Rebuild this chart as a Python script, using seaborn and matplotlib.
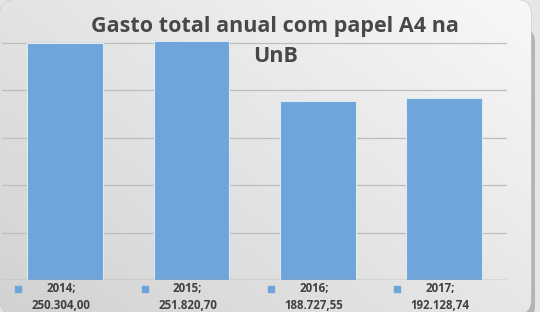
import numpy as np
import matplotlib
matplotlib.use("Agg")
import matplotlib.pyplot as plt
import seaborn as sns
import pandas as pd
from matplotlib.patches import FancyBboxPatch

years = ["2014", "2015", "2016", "2017"]
values = [250304.00, 251820.70, 188727.55, 192128.74]
title = "Gasto total anual com papel A4 na\nUnB"

def br(v):
    s = f"{v:,.2f}"
    return s.replace(",", "X").replace(".", ",").replace("X", ".")

df = pd.DataFrame({"ano": years, "gasto": values})

sns.set_theme(style="white")
plt.rcParams['font.family'] = ['Open Sans', 'DejaVu Sans']

W, H = 540, 312
fig = plt.figure(figsize=(W / 100, H / 100), dpi=100)
fig.patch.set_facecolor("#e6e6e6")

# background with gradient and rounded corners
bg = fig.add_axes([0, 0, 1, 1])
bg.set_xlim(0, W)
bg.set_ylim(0, H)
bg.axis("off")
yy, xx = np.mgrid[0:1:200j, 0:1:300j]
grad = 0.55 * xx + 0.45 * yy
cmap = matplotlib.colors.LinearSegmentedColormap.from_list("g", ["#d2d2d2", "#f8f8f8"])
shadow = FancyBboxPatch((5, -8), W - 10, H - 20, boxstyle="round,pad=0,rounding_size=14",
                        facecolor="#b4b4b4", edgecolor="none")
bg.add_patch(shadow)
box = FancyBboxPatch((0, -2), W - 9, H + 2, boxstyle="round,pad=0,rounding_size=14",
                     facecolor="none", edgecolor="#c8c8c8", linewidth=0.8)
bg.add_patch(box)
im = bg.imshow(grad, extent=[0, W - 9, -2, H], origin="lower", cmap=cmap,
               aspect="auto", zorder=1)
im.set_clip_path(box)

ax = fig.add_axes([2 / W, (H - 280) / H, 505 / W, 280 / H])
ax.patch.set_alpha(0)
sns.barplot(data=df, x="ano", y="gasto", color="#6fa5da", width=0.6,
            edgecolor="#dce9f6", linewidth=0.8, saturation=1, ax=ax, zorder=3)
ax.set_ylim(0, 295400)
ax.set_xlim(-0.5, 3.5)
ax.set_yticks([50000, 100000, 150000, 200000, 250000])
ax.yaxis.grid(True, color="#bdbdbd", linewidth=0.9, zorder=0)
ax.set_axisbelow(True)
ax.axhline(0, color="#9a9a9a", linewidth=1.0, zorder=4)
ax.set_xlabel("")
ax.set_ylabel("")
ax.set_xticks([])
ax.set_yticklabels([])
ax.tick_params(left=False, bottom=False)
for s in ax.spines.values():
    s.set_visible(False)

tr = ax.get_xaxis_transform()
for i, (yr, v) in enumerate(zip(years, values)):
    ax.scatter([i - 0.37], [-0.032], marker="s", s=22, color="#6fa5da",
               transform=tr, clip_on=False, zorder=5)
    ax.text(i - 0.03, -0.006, f"{yr};\n{br(v)}", transform=tr, ha="center",
            va="top", fontsize=8.3, fontweight="bold", color="#404040",
            linespacing=1.42, clip_on=False)

fig.text(0.51, 0.95, title, ha="center", va="top", fontsize=15.5,
         fontweight="bold", color="#484848", linespacing=1.6)

fig.savefig("out.png", dpi=100)
